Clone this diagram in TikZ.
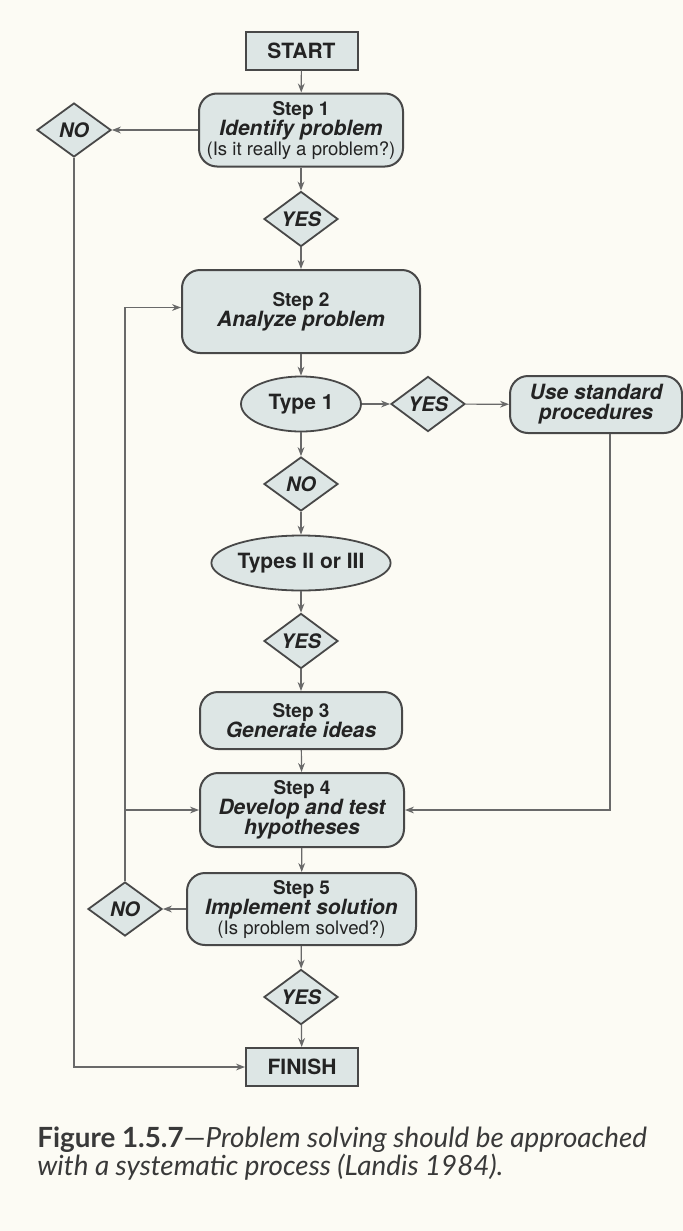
\documentclass[tikz,border=0pt]{standalone}
\usepackage{fontspec}
\setmainfont{TeX Gyre Heros}
\newfontfamily\capfont{Lato}
\usepackage{tikz}
\usetikzlibrary{shapes.geometric, arrows.meta, positioning, calc}
\definecolor{paper}{RGB}{252,251,244}
\definecolor{boxfill}{RGB}{221,230,229}
\definecolor{boxedge}{RGB}{72,72,72}
\definecolor{linegray}{RGB}{105,105,105}
\definecolor{ink}{RGB}{35,35,35}
\tikzset{every node/.append style={align=center}}
\tikzset{
  term/.style={rectangle, draw=boxedge, fill=boxfill, line width=1pt,
    minimum width=56pt, minimum height=19pt, inner sep=0pt,
    font=\bfseries\fontsize{10.5}{11}\selectfont, text=ink},
  stepbox/.style={rectangle, rounded corners=9pt, draw=boxedge, fill=boxfill,
    line width=1pt, inner sep=0pt, font=\fontsize{10}{10}\selectfont, text=ink},
  oval/.style={ellipse, draw=boxedge, fill=boxfill, line width=0.9pt,
    inner sep=0pt, font=\bfseries\fontsize{10.5}{11}\selectfont, text=ink},
  dec/.style={diamond, draw=boxedge, fill=boxfill, line width=0.9pt, inner sep=0pt,
    minimum width=37pt, minimum height=27pt,
    font=\bfseries\itshape\fontsize{10}{10}\selectfont, text=ink},
  arrow/.style={-{Stealth[length=4.5pt,width=3.4pt]}, draw=linegray, line width=0.6pt},
  caption/.style={anchor=base west, inner sep=0pt, text=ink!90,
    font=\capfont\fontsize{13.9}{15}\selectfont}
}

\begin{document}
\begin{tikzpicture}[x=0.5pt, y=-0.5pt]
  \useasboundingbox (0,0) rectangle (683,1231);
  \fill[paper] (0,0) rectangle (683,1231);

  % main column
  \node[term] (start) at (301.5,50.5) {START};
  \node[stepbox, minimum width=102pt, minimum height=36.5pt] (s1) at (301,130)
    {{\fontsize{9.5}{10}\selectfont\bfseries Step 1}\\
     {\bfseries\itshape\fontsize{10.5}{10}\selectfont Identify problem}\\
     {\fontsize{9.3}{10}\selectfont (Is it really a problem?)}};
  \node[dec] (no1) at (74,130) {NO};
  \node[dec] (yes1) at (301,219) {YES};
  \node[stepbox, minimum width=119pt, minimum height=41.5pt] (s2) at (301,311.5)
    {{\fontsize{9.5}{10}\selectfont\bfseries Step 2}\\
     {\bfseries\itshape\fontsize{10.5}{10}\selectfont Analyze problem}};
  \node[oval, minimum width=60pt, minimum height=27.5pt] (t1) at (301,404) {Type 1};
  \node[dec] (yes2) at (428,404) {YES};
  \node[stepbox, minimum width=86pt, minimum height=28.5pt] (std) at (596,404.5)
    {\bfseries\itshape\fontsize{10.5}{10}\selectfont Use standard\\
     \bfseries\itshape\fontsize{10.5}{10}\selectfont procedures};
  \node[dec] (no2) at (301,484) {NO};
  \node[oval, minimum width=85pt, minimum height=27.5pt] (t23) at (301,563) {Types II or III};
  \node[dec] (yes3) at (301,641) {YES};
  \node[stepbox, minimum width=101pt, minimum height=28.5pt] (s3) at (301,720.5)
    {{\fontsize{9.5}{10}\selectfont\bfseries Step 3}\\
     {\bfseries\itshape\fontsize{10.5}{10}\selectfont Generate ideas}};
  \node[stepbox, minimum width=102pt, minimum height=37pt] (s4) at (302,810)
    {{\fontsize{9.5}{10}\selectfont\bfseries Step 4}\\
     {\bfseries\itshape\fontsize{10.5}{11}\selectfont Develop and test}\\
     {\bfseries\itshape\fontsize{10.5}{11}\selectfont hypotheses}};
  \node[stepbox, minimum width=114.5pt, minimum height=36pt] (s5) at (301.5,909)
    {{\fontsize{9.5}{10}\selectfont\bfseries Step 5}\\
     {\bfseries\itshape\fontsize{10.5}{10}\selectfont Implement solution}\\
     {\fontsize{9.3}{10}\selectfont (Is problem solved?)}};
  \node[dec] (no3) at (125,909) {NO};
  \node[dec] (yes4) at (301,997) {YES};
  \node[term] (finish) at (302,1067) {FINISH};

  \draw[arrow] (start) -- (s1);
  \draw[arrow] (s1) -- (no1);
  \draw[arrow] (s1) -- (yes1);
  \draw[arrow] (yes1) -- (s2);
  \draw[arrow] (s2) -- (t1);
  \draw[arrow] (t1) -- (yes2);
  \draw[arrow] (yes2) -- (std);
  \draw[arrow] (t1) -- (no2);
  \draw[arrow] (no2) -- (t23);
  \draw[arrow] (t23) -- (yes3);
  \draw[arrow] (yes3) -- (s3);
  \draw[arrow] (s3) -- (s4);
  \draw[arrow] (s4) -- (s5);
  \draw[arrow] (s5) -- (yes4);
  \draw[arrow] (yes4) -- (finish);
  \draw[arrow] (s5) -- (no3);

  % feedback loops
  \draw[arrow] (no1.south) |- (finish.west);
  \draw[arrow] (no3.north) |- ([yshift=2pt]s2.west);
  \draw[arrow] (no3.north |- s4.west) -- (s4.west);
  \draw[arrow] ([xshift=7pt]std.south) |- (s4.east);

  % caption
  \node[caption] (cap1) at (37,1147)
    {{\bfseries Figure 1.5.7}—\itshape Problem solving should be approached};
  \node[caption] (cap2) at (37,1175)
    {\itshape with a systematic process (Landis 1984).};
\end{tikzpicture}
\end{document}
